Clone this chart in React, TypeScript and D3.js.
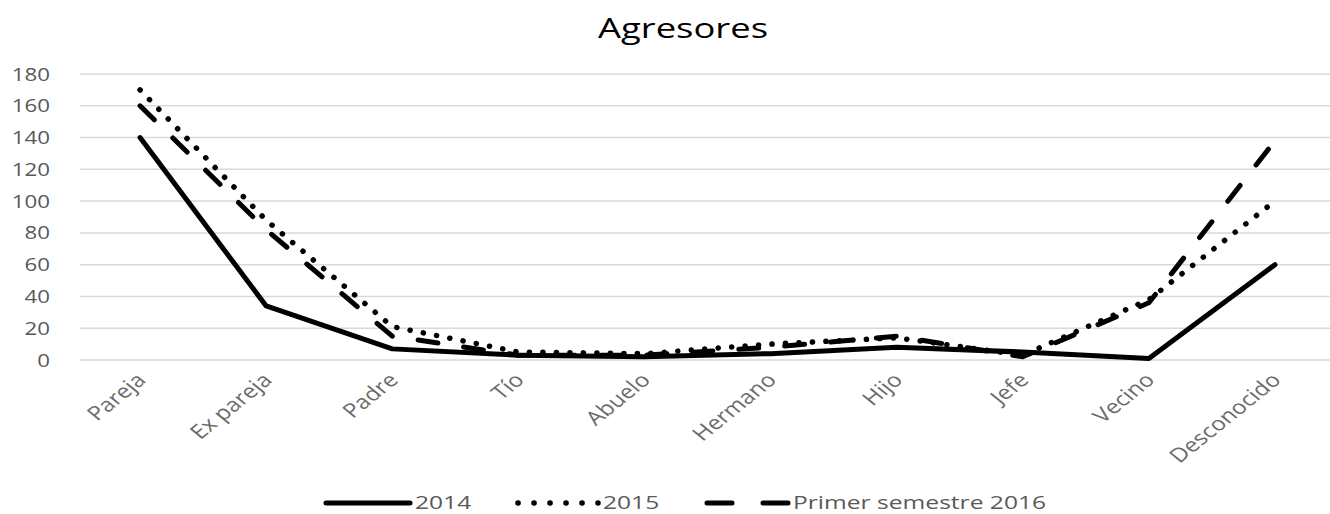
import { useEffect, useRef } from "react"
import * as d3 from "d3"

const categories = ["Pareja", "Ex pareja", "Padre", "Tío", "Abuelo", "Hermano", "Hijo", "Jefe", "Vecino", "Desconocido"]
const values2014 = [140, 34, 7, 3, 2, 4, 8, 5, 1, 60]
const values2015 = [170, 88, 21, 5, 4, 10, 14, 3, 38, 100]
const values2016 = [160, 82, 15, 3, 3, 8, 15, 2, 36, 138]
const yTicks = [0, 20, 40, 60, 80, 100, 120, 140, 160, 180]

const seriesNames = ["2014", "2015", "Primer semestre 2016"]

const WIDTH = 1330
const HEIGHT = 514
const STRETCH = 1.24
const FONT = "'Open Sans', 'Liberation Sans', sans-serif"

export default function App() {
  const svgRef = useRef<SVGSVGElement>(null)

  useEffect(() => {
    if (!svgRef.current) return
    d3.select(svgRef.current).selectAll("*").remove()

    const svg = d3.select(svgRef.current).attr("width", WIDTH).attr("height", HEIGHT)

    const x = d3.scalePoint<string>().domain(categories).range([77, 1338]).padding(0.5)
    const y = d3.scaleLinear().domain([0, 180]).range([360, 74])

    // title
    svg
      .append("text")
      .attr("transform", `translate(683,38) scale(1.3,1)`)
      .attr("text-anchor", "middle")
      .attr("font-family", FONT)
      .attr("font-size", 28)
      .attr("fill", "#000")
      .text("Agresores")

    // grid
    svg
      .append("g")
      .selectAll("line")
      .data(yTicks)
      .enter()
      .append("line")
      .attr("x1", 80)
      .attr("x2", WIDTH)
      .attr("y1", (d) => y(d))
      .attr("y2", (d) => y(d))
      .attr("stroke", "#d9d9d9")
      .attr("stroke-width", 1.5)

    // y labels
    svg
      .append("g")
      .selectAll("text")
      .data(yTicks)
      .enter()
      .append("text")
      .attr("transform", (d) => `translate(50,${y(d) + 6.5}) scale(${STRETCH},1)`)
      .attr("text-anchor", "end")
      .attr("font-family", FONT)
      .attr("font-size", 18)
      .attr("fill", "#595959")
      .text((d) => d)

    // x labels
    svg
      .append("g")
      .selectAll("text")
      .data(categories)
      .enter()
      .append("text")
      .attr("transform", (d) => `translate(${x(d)! - 3},373) scale(${STRETCH},1) rotate(-45)`)
      .attr("text-anchor", "end")
      .attr("dy", "0.6em")
      .attr("font-family", FONT)
      .attr("font-size", 19.5)
      .attr("fill", "#6b6b6b")
      .text((d) => d)

    const styles = [
      { data: values2014, dash: null },
      { data: values2015, dash: "0.1 13.4" },
      { data: values2016, dash: "20 26" },
    ]

    const line = d3
      .line<number>()
      .x((_, i) => x(categories[i])!)
      .y((d) => y(d))

    styles.forEach((s) => {
      svg
        .append("path")
        .datum(s.data)
        .attr("d", line)
        .attr("fill", "none")
        .attr("stroke", "#000")
        .attr("stroke-width", s.dash === "0.1 13.4" ? 5.5 : 5)
        .attr("stroke-linecap", "round")
        .attr("stroke-linejoin", "round")
        .attr("stroke-dasharray", s.dash)
    })

    // legend
    const legendX = [324, 516, 705]
    const legendLen = [88, 84, 85]
    const legendDash = [null, "0.1 15.9", "25 31"]
    const legend = svg.append("g")
    seriesNames.forEach((name, i) => {
      legend
        .append("line")
        .attr("x1", legendX[i] + 2)
        .attr("x2", legendX[i] + legendLen[i] - 2)
        .attr("y1", 503)
        .attr("y2", 503)
        .attr("stroke", "#000")
        .attr("stroke-width", i === 1 ? 5.5 : 5)
        .attr("stroke-linecap", "round")
        .attr("stroke-dasharray", legendDash[i])
      legend
        .append("text")
        .attr("transform", `translate(${legendX[i] + legendLen[i] + 3},509) scale(1.33,1)`)
        .attr("font-family", FONT)
        .attr("font-size", 18.5)
        .attr("fill", "#595959")
        .text(name)
    })
  }, [])

  return <svg ref={svgRef} style={{ position: "absolute", left: 0, top: 0 }} />
}
